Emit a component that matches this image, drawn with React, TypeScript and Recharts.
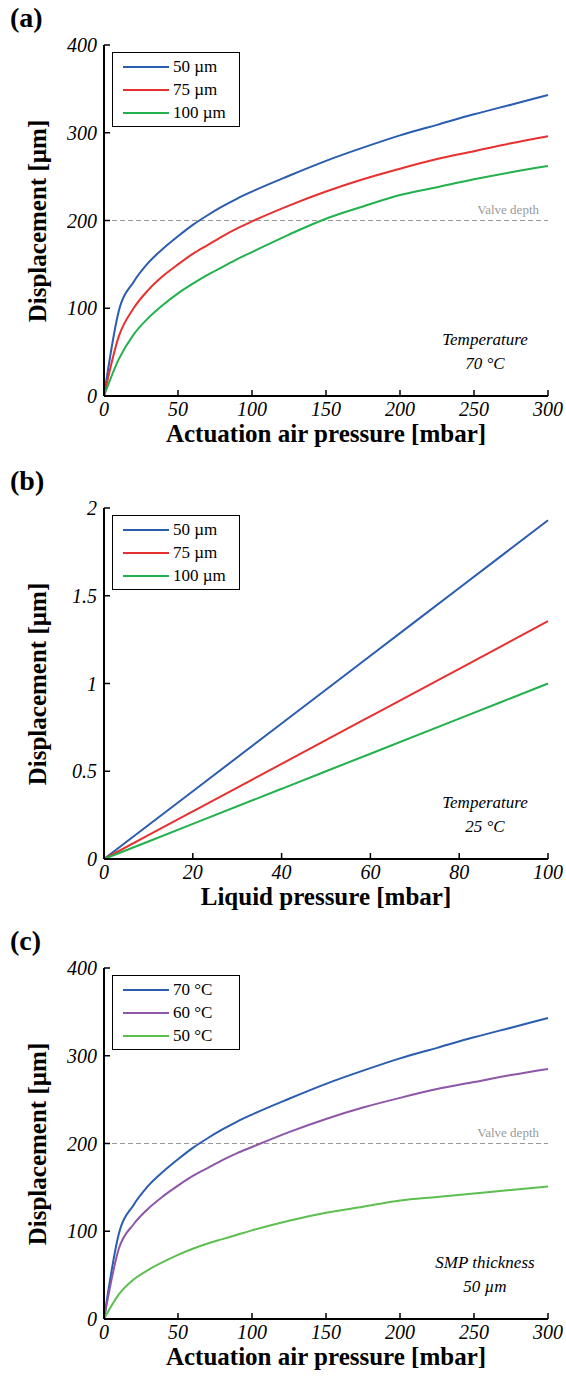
import React from 'react';
import { LineChart, Line, XAxis, YAxis, ReferenceLine } from 'recharts';

const pressureA = [0, 10, 20, 30, 40, 50, 60, 70, 80, 90, 100, 125, 150, 175, 200, 225, 250, 275, 300];
const a50 = [0, 97, 130, 152, 168, 182, 195, 206, 216, 225, 233, 251, 268, 283, 297, 309, 321, 332, 343];
const a75 = [0, 68, 100, 121, 137, 150, 162, 172, 182, 191, 199, 217, 233, 247, 259, 270, 279, 288, 296];
const a100 = [0, 42, 70, 89, 104, 117, 128, 138, 147, 156, 164, 184, 202, 216, 229, 238, 247, 255, 262];
const pressureB = [0, 20, 40, 60, 80, 100];
const b50 = [0, 0.386, 0.772, 1.158, 1.544, 1.93];
const b75 = [0, 0.271, 0.542, 0.813, 1.084, 1.355];
const b100 = [0, 0.2, 0.4, 0.6, 0.8, 1.0];
const c70 = a50;
const c60 = [0, 80, 108, 126, 140, 152, 163, 172, 181, 189, 196, 213, 228, 241, 252, 262, 270, 278, 285];
const c50 = [0, 28, 45, 56, 65, 73, 80, 86, 91, 96, 101, 112, 121, 128, 135, 139, 143, 147, 151];
const ticksX300 = [0, 50, 100, 150, 200, 250, 300];
const ticksY400 = [0, 100, 200, 300, 400];
const ticksX100 = [0, 20, 40, 60, 80, 100];
const ticksY2 = [0, 0.5, 1, 1.5, 2];

const PL = 104, PR = 548, PT = 45, PB = 396;
const serif = 'Liberation Serif';

const XTick = ({ x, payload, top }: any) => (
  <g>
    {top ? <line x1={x} x2={x} y1={PT} y2={PT + 6} stroke="#000" strokeWidth={1.5} /> : <>
      <line x1={x} x2={x} y1={PB} y2={PB - 6} stroke="#000" strokeWidth={1.5} />
      <text x={x} y={PB + 20} textAnchor="middle" fontFamily={serif} fontStyle="italic" fontSize={20}>{payload.value}</text>
    </>}
  </g>
);
const YTick = ({ y, payload, right }: any) => (
  <g>
    {right ? <line x1={PR} x2={PR - 6} y1={y} y2={y} stroke="#000" strokeWidth={1.5} /> : <>
      <line x1={PL} x2={PL + 6} y1={y} y2={y} stroke="#000" strokeWidth={1.5} />
      <text x={PL - 7} y={y + 7} textAnchor="end" fontFamily={serif} fontStyle="italic" fontSize={20}>{payload.value}</text>
    </>}
  </g>
);

function Panel({ top, letter, xs, series, xTicks, yTicks, xMax, yMax, xLabel, valve, note }: any) {
  const data = xs.map((x: number, i: number) => {
    const o: any = { x };
    series.forEach((s: any, k: number) => { o['s' + k] = s.v[i]; });
    return o;
  });
  return (
    <div style={{ position: 'absolute', left: 0, top, width: 566, height: 460, fontFamily: serif }}>
      <LineChart width={566} height={460} data={data} margin={{ top: PT, right: 566 - PR, bottom: 460 - PB - 30, left: PL - 44 }}>
        <XAxis xAxisId="b" dataKey="x" type="number" domain={[0, xMax]} ticks={xTicks} height={30} tickLine={false} axisLine={{ stroke: '#000', strokeWidth: 2 }} tick={<XTick />} interval={0} />
        <XAxis xAxisId="t" orientation="top" dataKey="x" type="number" domain={[0, xMax]} ticks={xTicks} height={0} tickLine={false} axisLine={{ stroke: '#000', strokeWidth: 2 }} tick={<XTick top />} interval={0} />
        <YAxis yAxisId="l" type="number" domain={[0, yMax]} ticks={yTicks} width={44} tickLine={false} axisLine={{ stroke: '#000', strokeWidth: 2 }} tick={<YTick />} interval={0} />
        <YAxis yAxisId="r" orientation="right" type="number" domain={[0, yMax]} ticks={yTicks} width={0} tickLine={false} axisLine={{ stroke: '#000', strokeWidth: 2 }} tick={<YTick right />} interval={0} />
        {valve && <ReferenceLine xAxisId="b" yAxisId="l" y={200} stroke="#999" strokeDasharray="5 3" strokeWidth={1.2}
          label={{ value: 'Valve depth', position: 'insideBottomRight', fill: '#999', fontSize: 13, fontFamily: serif, dy: -2, dx: -4 }} />}
        {series.map((s: any, k: number) => (
          <Line key={k} xAxisId="b" yAxisId="l" dataKey={'s' + k} stroke={s.c} strokeWidth={2} dot={false} isAnimationActive={false} type="monotone" />
        ))}
      </LineChart>
      <div style={{ position: 'absolute', left: 10, top: 2, fontWeight: 'bold', fontSize: 28 }}>{letter}</div>
      <div style={{ position: 'absolute', left: PL - 20, width: PR - PL + 40, top: PB + 24, textAlign: 'center', fontWeight: 'bold', fontSize: 25 }}>{xLabel}</div>
      <div style={{ position: 'absolute', left: 38, top: (PT + PB) / 2, transform: 'translate(-50%,-50%) rotate(-90deg)', whiteSpace: 'nowrap', fontWeight: 'bold', fontSize: 25 }}>Displacement [µm]</div>
      <div style={{ position: 'absolute', left: 112, top: 52, width: 126, border: '1.5px solid #000', background: '#fff', padding: '2px 0', fontSize: 17 }}>
        {series.map((s: any, k: number) => (
          <div key={k} style={{ display: 'flex', alignItems: 'center', height: 23 }}>
            <div style={{ width: 46, height: 2, background: s.c, marginLeft: 10, marginRight: 4 }} />
            <span>{s.n}</span>
          </div>
        ))}
      </div>
      <div style={{ position: 'absolute', left: 430, width: 110, top: 328, textAlign: 'center', fontStyle: 'italic', fontSize: 17, lineHeight: '24px' }}>
        {note[0]}<br />{note[1]}
      </div>
    </div>
  );
}

export default function App() {
  return (
    <div style={{ position: 'absolute', left: 0, top: 0, width: 566, height: 1376, background: '#fff' }}>
      <Panel top={0} letter="(a)" xs={pressureA} xTicks={ticksX300} yTicks={ticksY400} xMax={300} yMax={400}
        xLabel="Actuation air pressure [mbar]" valve note={['Temperature', '70 °C']}
        series={[{ v: a50, c: '#2a5db0', n: '50 µm' }, { v: a75, c: '#e8302f', n: '75 µm' }, { v: a100, c: '#22b14c', n: '100 µm' }]} />
      <Panel top={463} letter="(b)" xs={pressureB} xTicks={ticksX100} yTicks={ticksY2} xMax={100} yMax={2}
        xLabel="Liquid pressure [mbar]" note={['Temperature', '25 °C']}
        series={[{ v: b50, c: '#2a5db0', n: '50 µm' }, { v: b75, c: '#e8302f', n: '75 µm' }, { v: b100, c: '#22b14c', n: '100 µm' }]} />
      <Panel top={923} letter="(c)" xs={pressureA} xTicks={ticksX300} yTicks={ticksY400} xMax={300} yMax={400}
        xLabel="Actuation air pressure [mbar]" valve note={['SMP thickness', '50 µm']}
        series={[{ v: c70, c: '#2a5db0', n: '70 °C' }, { v: c60, c: '#8e56a8', n: '60 °C' }, { v: c50, c: '#5cbf4f', n: '50 °C' }]} />
    </div>
  );
}
